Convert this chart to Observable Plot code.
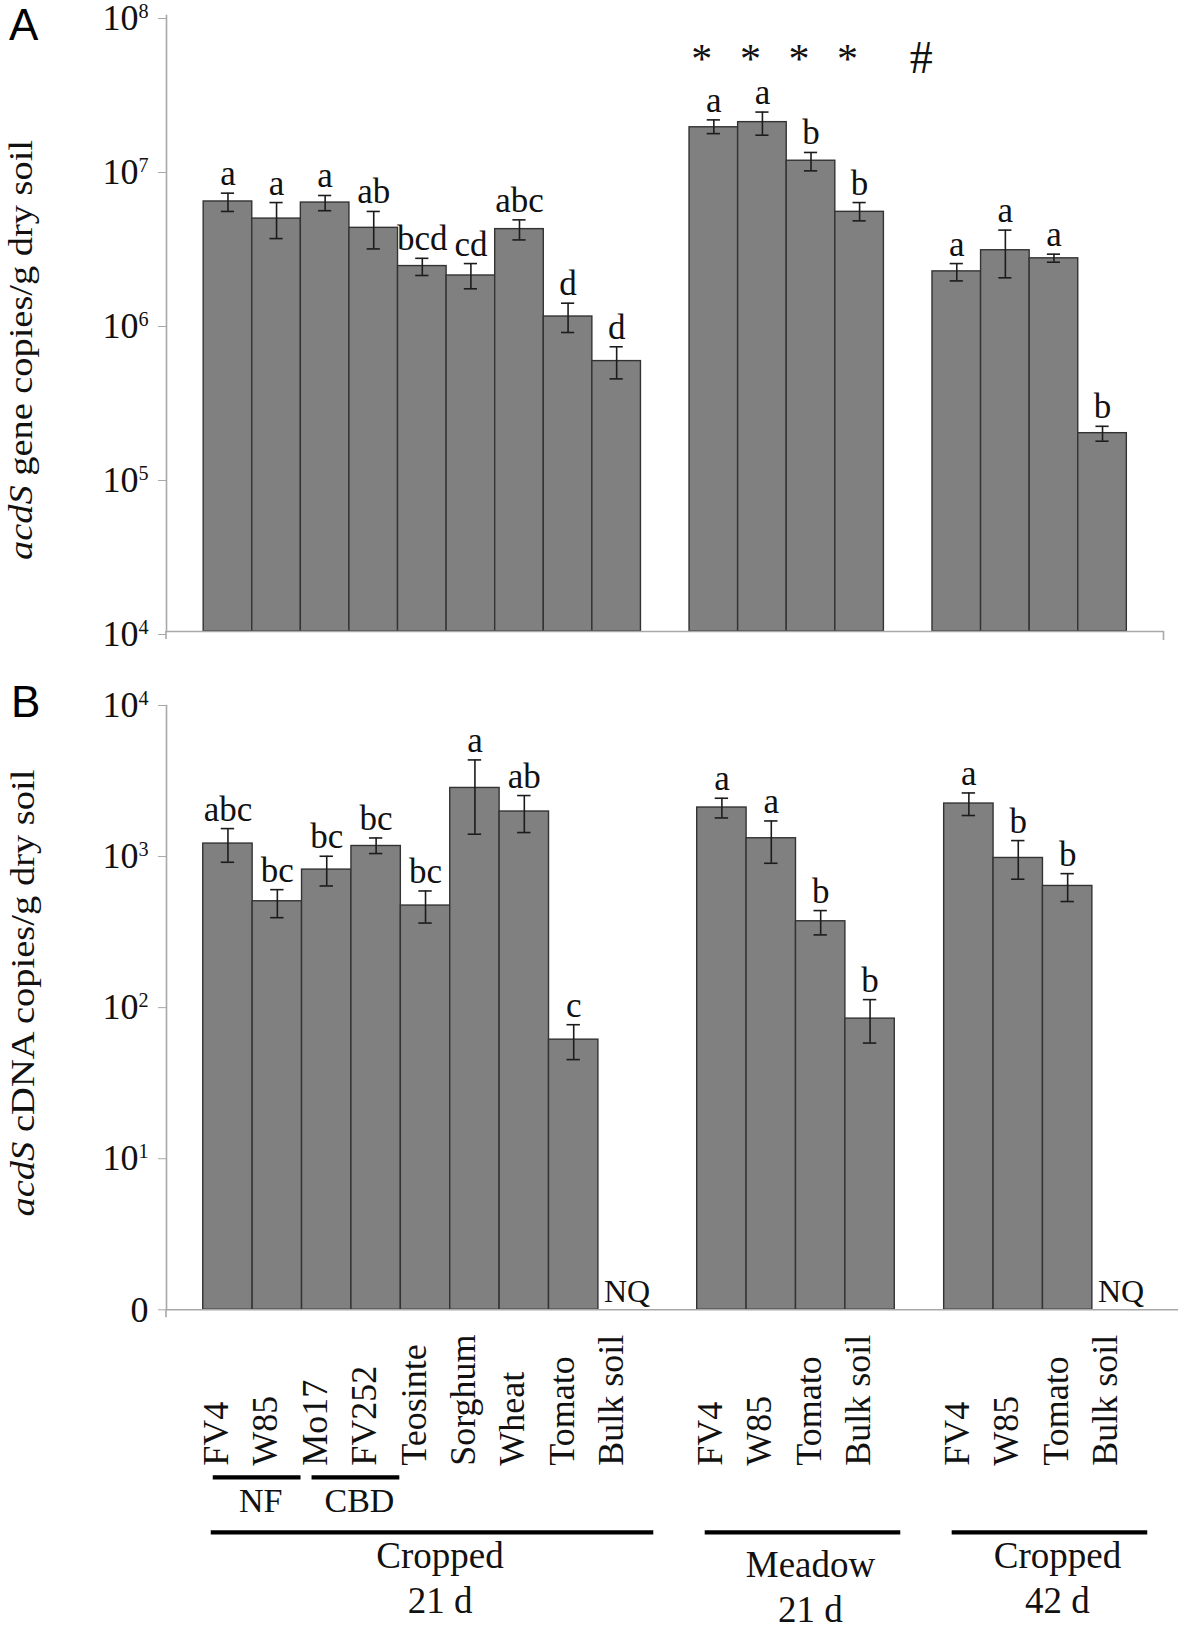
<!DOCTYPE html>
<html>
<head>
<meta charset="utf-8">
<script src="https://cdn.jsdelivr.net/npm/d3@7"></script>
<script src="https://cdn.jsdelivr.net/npm/@observablehq/plot@0.6"></script>
<style>
  body { margin: 0; background: #fff; }
  #chart { position: relative; width: 1181px; height: 1627px; background: #fff; }
  #chart svg { display: block; overflow: visible; }
</style>
</head>
<body>
<div id="chart"></div>
<script>
// ---------------- DATA ----------------
const plants1 = ["FV4", "W85", "Mo17", "FV252", "Teosinte", "Sorghum", "Wheat", "Tomato", "Bulk soil"];
const plants2 = ["FV4", "W85", "Tomato", "Bulk soil"];
const plants3 = ["FV4", "W85", "Tomato", "Bulk soil"];
const groupTitles = [["Cropped", "21 d"], ["Meadow", "21 d"], ["Cropped", "42 d"]];
const subgroupLabels = ["NF", "CBD"];
const subgroupPlants = [["FV4", "W85"], ["Mo17", "FV252"]];

// Panel A: acdS gene copies/g dry soil
const geneMean = [6.2e6, 4.8e6, 6.1e6, 4.18e6, 2.36e6, 2.05e6, 4.1e6, 1.11e6, 5.7e5,
                  1.88e7, 2.03e7, 1.14e7, 5.31e6,
                  2.18e6, 2.99e6, 2.65e6, 1.94e5];
const geneHigh = [7.02e6, 6.1e6, 6.78e6, 5.34e6, 2.65e6, 2.45e6, 4.71e6, 1.355e6, 7.06e5,
                  2.1e7, 2.36e7, 1.29e7, 6.1e6,
                  2.45e6, 4.04e6, 2.82e6, 2.15e5];
const geneLow  = [5.34e6, 3.56e6, 5.4e6, 3.05e6, 2.05e6, 1.68e6, 3.49e6, 8.74e5, 4.37e5,
                  1.71e7, 1.67e7, 9.8e6, 4.64e6,
                  1.89e6, 1.98e6, 2.5e6, 1.72e5];
const geneLetters = ["a", "a", "a", "ab", "bcd", "cd", "abc", "d", "d",
                     "a", "a", "b", "b",
                     "a", "a", "a", "b"];
const geneStars = ["", "", "", "", "", "", "", "", "",
                   "*", "*", "*", "*",
                   "", "", "", ""];
const gapSymbol = "#";
const geneTicks = [1e4, 1e5, 1e6, 1e7, 1e8];
const geneTickLabels = ["10^4", "10^5", "10^6", "10^7", "10^8"];

// Panel B: acdS cDNA copies/g dry soil (null = not quantified)
const cdnaMean = [1219, 506, 820, 1175, 474, 2846, 1987, 61.4, null,
                  2112, 1322, 373, 84.6,
                  2244, 979, 639, null];
const cdnaHigh = [1532, 604, 1005, 1328, 592, 4363, 2535, 77.1, null,
                  2433, 1721, 439, 113,
                  2637, 1276, 771, null];
const cdnaLow  = [917, 394, 639, 1047, 363, 1406, 1442, 45.3, null,
                  1802, 903, 303, 58.3,
                  1870, 708, 504, null];
const cdnaLetters = ["abc", "bc", "bc", "bc", "bc", "a", "ab", "c", "",
                     "a", "a", "b", "b",
                     "a", "b", "b", ""];
const nqLabel = "NQ";
const cdnaTicks = [1, 1e1, 1e2, 1e3, 1e4];
const cdnaTickLabels = ["0", "10^1", "10^2", "10^3", "10^4"];

// ---------------- BUILD TABLES ----------------
const groups = [plants1, plants2, plants3];
const rows = [];
const domain = [];
groups.forEach((plants, g) => {
  if (g > 0) domain.push(`gap${g}`);
  plants.forEach(p => { rows.push({id: `${g}|${p}`, name: p, group: g}); domain.push(`${g}|${p}`); });
});
rows.forEach((r, i) => {
  r.gene = geneMean[i]; r.geneHi = geneHigh[i]; r.geneLo = geneLow[i];
  r.geneLetter = geneLetters[i]; r.star = geneStars[i];
  r.cdna = cdnaMean[i]; r.cdnaHi = cdnaHigh[i]; r.cdnaLo = cdnaLow[i];
  r.cdnaLetter = cdnaLetters[i];
});
const starRows = rows.filter(r => r.star);
const gapRows = [{id: "gap2", sym: gapSymbol}];
const cdnaRows = rows.filter(r => r.cdna != null);
const nqRows = rows.filter(r => r.cdna == null).map(r => ({id: r.id, label: nqLabel}));

const serif = "'Liberation Serif', 'Times New Roman', Times, serif";
const sans = "'Liberation Sans', Arial, Helvetica, sans-serif";
const axisGray = "#a8a8a8";
const barFill = "#808080";
const barStroke = "#333";
const errStroke = "#1c1c1c";

function fixTickLabels(svg, zeroShift) {
  d3.select(svg).selectAll('g[aria-label="y-axis tick label"] text').each(function () {
    const t = this.textContent;
    const s = d3.select(this);
    s.attr("fill", "#111");
    if (t.includes("^")) {
      const [b, e] = t.split("^");
      s.text(null);
      s.append("tspan").text(b);
      s.append("tspan").attr("font-size", "0.56em").attr("dy", "-0.62em").text(e);
    } else if (zeroShift) {
      s.attr("dy", "0.02em");
    }
  });
}

function addTitle(svg, x, y, italicPart, rest, len) {
  const t = d3.select(svg).append("text")
    .attr("transform", `translate(${x},${y}) rotate(-90)`)
    .attr("text-anchor", "middle")
    .attr("font-family", serif)
    .attr("font-size", 34)
    .attr("fill", "#111")
    .attr("textLength", len)
    .attr("lengthAdjust", "spacingAndGlyphs");
  t.append("tspan").attr("font-style", "italic").text(italicPart);
  t.append("tspan").text(rest);
}

function addPanelLetter(svg, x, y, letter) {
  d3.select(svg).append("text")
    .attr("x", x).attr("y", y)
    .attr("text-anchor", "start")
    .attr("font-family", sans).attr("font-size", 44).attr("fill", "#000")
    .text(letter);
}

// small axis-end ticks (axis decoration, placed from the plot's frame)
function addAxisEnds(svg, left, right, bottom, rightTick) {
  const g = d3.select(svg).append("g").attr("stroke", axisGray).attr("stroke-width", 1.6);
  g.append("line").attr("x1", left).attr("x2", left).attr("y1", bottom).attr("y2", bottom + 8);
  if (rightTick) g.append("line").attr("x1", right).attr("x2", right).attr("y1", bottom).attr("y2", bottom + 9);
}

// ---------------- PANEL A ----------------
const A = {width: 1181, height: 660, marginLeft: 166, marginRight: 17.5, marginTop: 15, marginBottom: 29};
const plotA = Plot.plot({
  ...A,
  style: {fontFamily: serif, background: "white", overflow: "visible", color: "#111"},
  x: {type: "band", domain, paddingInner: 0, paddingOuter: 0.765, round: false, axis: null},
  y: {type: "log", domain: [1e4, 1e8], axis: null},
  marks: [
    Plot.barY(rows, {x: "id", y1: 1e4, y2: "gene", fill: barFill, stroke: barStroke, strokeWidth: 1.4}),
    Plot.ruleX(rows, {x: "id", y1: "geneLo", y2: "geneHi", stroke: errStroke, strokeWidth: 1.6}),
    Plot.tickY(rows, {x: "id", y: "geneHi", insetLeft: 17.7, insetRight: 17.7, stroke: errStroke, strokeWidth: 1.6}),
    Plot.tickY(rows, {x: "id", y: "geneLo", insetLeft: 17.7, insetRight: 17.7, stroke: errStroke, strokeWidth: 1.6}),
    Plot.text(rows, {x: "id", y: "geneHi", text: "geneLetter", lineAnchor: "bottom", dy: -8, fontSize: 35, fill: "#111"}),
    Plot.text(starRows, {x: "id", text: "star", frameAnchor: "top", lineAnchor: "bottom", dy: 57, dx: -12, fontSize: 42, fill: "#111"}),
    Plot.text(gapRows, {x: "id", text: "sym", frameAnchor: "top", lineAnchor: "bottom", dy: 57, dx: 13, fontSize: 46, fill: "#111"}),
    Plot.ruleY([1e4], {stroke: axisGray, strokeWidth: 1.6}),
    Plot.frame({anchor: "left", stroke: axisGray, strokeWidth: 1.6}),
    Plot.axisY({ticks: geneTicks, tickSize: 8, tickPadding: 10, stroke: axisGray, fontSize: 36, dy: 3,
                tickFormat: d => geneTickLabels[geneTicks.indexOf(d)]})
  ]
});
fixTickLabels(plotA, false);
addAxisEnds(plotA, A.marginLeft, A.width - A.marginRight, A.height - A.marginBottom, true);
addTitle(plotA, 32, 350, "acdS", " gene copies/g dry soil", 420);
addPanelLetter(plotA, 9, 40, "A");

// ---------------- PANEL B ----------------
const B = {width: 1181, height: 967, marginLeft: 166, marginRight: 3, marginTop: 45, marginBottom: 317.7};
const plotB = Plot.plot({
  ...B,
  style: {fontFamily: serif, background: "white", overflow: "visible", color: "#111"},
  x: {type: "band", domain, paddingInner: 0, paddingOuter: 0.744, round: false, axis: null},
  y: {type: "log", domain: [1, 1e4], axis: null},
  marks: [
    Plot.barY(cdnaRows, {x: "id", y1: 1, y2: "cdna", fill: barFill, stroke: barStroke, strokeWidth: 1.4}),
    Plot.ruleX(cdnaRows, {x: "id", y1: "cdnaLo", y2: "cdnaHi", stroke: errStroke, strokeWidth: 1.6}),
    Plot.tickY(cdnaRows, {x: "id", y: "cdnaHi", insetLeft: 18, insetRight: 18, stroke: errStroke, strokeWidth: 1.6}),
    Plot.tickY(cdnaRows, {x: "id", y: "cdnaLo", insetLeft: 18, insetRight: 18, stroke: errStroke, strokeWidth: 1.6}),
    Plot.text(cdnaRows, {x: "id", y: "cdnaHi", text: "cdnaLetter", lineAnchor: "bottom", dy: -8, fontSize: 35, fill: "#111"}),
    Plot.text(nqRows, {x: "id", text: "label", frameAnchor: "bottom", lineAnchor: "bottom", dy: -7.6, dx: 4, fontSize: 32, fill: "#111"}),
    Plot.text(rows, {x: "id", text: "name", frameAnchor: "bottom", rotate: -90, textAnchor: "start", dy: 156, fontSize: 36, fill: "#111"}),
    Plot.ruleY([1], {stroke: axisGray, strokeWidth: 1.6}),
    Plot.frame({anchor: "left", stroke: axisGray, strokeWidth: 1.6}),
    Plot.axisY({ticks: cdnaTicks, tickSize: 8, tickPadding: 10, stroke: axisGray, fontSize: 36,
                tickFormat: d => cdnaTickLabels[cdnaTicks.indexOf(d)]})
  ]
});
fixTickLabels(plotB, true);
addAxisEnds(plotB, B.marginLeft, B.width - B.marginRight, B.height - B.marginBottom, false);
addTitle(plotB, 34, 333, "acdS", " cDNA copies/g dry soil", 447);
addPanelLetter(plotB, 11, 57, "B");

// group brackets below panel B, positioned with Plot's x scale
(function () {
  const xs = plotB.scale("x");
  let start, bw;
  if (xs && typeof xs.apply === "function") {
    start = v => xs.apply(v);
    bw = xs.bandwidth;
  } else {
    const band = d3.scaleBand(domain, [B.marginLeft, B.width - B.marginRight]).paddingInner(0).paddingOuter(0.744);
    start = v => band(v); bw = band.bandwidth();
  }
  const frameBottom = B.height - B.marginBottom;
  const g = d3.select(plotB).append("g").attr("font-family", serif).attr("fill", "#111");
  // sub-groups (NF, CBD)
  subgroupLabels.forEach((lab, i) => {
    const ps = subgroupPlants[i];
    const x1 = start(`0|${ps[0]}`) + 10;
    const x2 = start(`0|${ps[ps.length - 1]}`) + bw - 1;
    g.append("line").attr("x1", x1).attr("x2", x2)
      .attr("y1", frameBottom + 168).attr("y2", frameBottom + 168)
      .attr("stroke", "#000").attr("stroke-width", 4.3);
    g.append("text").attr("x", (x1 + x2) / 2 + 4).attr("y", frameBottom + 202.7)
      .attr("text-anchor", "middle").attr("font-size", 34).text(lab);
  });
  // main groups
  groups.forEach((plants, gi) => {
    const x1 = start(`${gi}|${plants[0]}`) + 8;
    const x2 = start(`${gi}|${plants[plants.length - 1]}`) + bw + 6;
    g.append("line").attr("x1", x1).attr("x2", x2)
      .attr("y1", frameBottom + 223).attr("y2", frameBottom + 223)
      .attr("stroke", "#000").attr("stroke-width", 4.3);
    const shift = groupTitles[gi][0] === "Meadow" ? 9 : 0;
    const cx = (x1 + x2) / 2 + 8;
    g.append("text").attr("x", cx).attr("y", frameBottom + 258.7 + shift)
      .attr("text-anchor", "middle").attr("font-size", 37).text(groupTitles[gi][0]);
    g.append("text").attr("x", cx).attr("y", frameBottom + 303.7 + shift)
      .attr("text-anchor", "middle").attr("font-size", 37).text(groupTitles[gi][1]);
  });
})();

document.getElementById("chart").append(plotA, plotB);
</script>
</body>
</html>
